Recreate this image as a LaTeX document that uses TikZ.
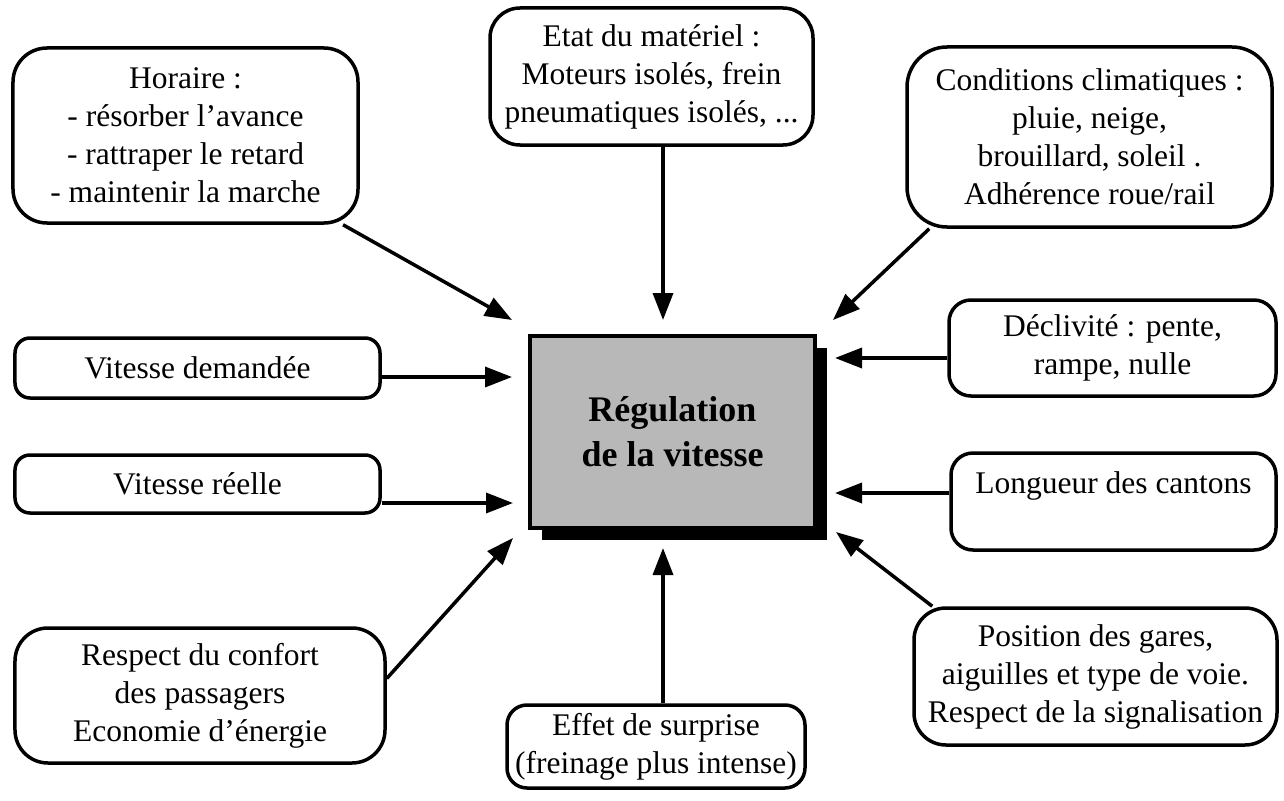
\documentclass[tikz,border=0pt]{standalone}
\usepackage{fontspec}
\setmainfont{Liberation Serif}
\usetikzlibrary{arrows.meta,calc,shadows}
\begin{document}
\begin{tikzpicture}[x=1bp,y=-1bp,
  box/.style={draw, line width=3.5bp, align=center, inner sep=0pt, fill=white,
    font={\fontsize{31.5bp}{38bp}\selectfont}},
  arr/.style={line width=3.5bp, -{Triangle[length=27bp,width=20bp]}},
  central/.style={draw, line width=3.5bp, fill=black!28, align=center, inner sep=0pt,
    font={\fontsize{36bp}{45bp}\selectfont\bfseries},
    drop shadow={shadow xshift=12bp, shadow yshift=-12bp, fill=black, opacity=1}}
  ]
\useasboundingbox (0,0) rectangle (1284,801);

% central node
\node[central, minimum width=285bp, minimum height=192bp] (reg) at (672.5,432) {Régulation\\de la vitesse};

% surrounding boxes
\node[box, minimum width=345bp, minimum height=175bp, rounded corners=34bp] (hor) at (185.5,135.5)
  {Horaire :\\- résorber l’avance\\- rattraper le retard\\- maintenir la marche};
\node[box, minimum width=323bp, minimum height=137bp, rounded corners=30bp] (etat) at (651.5,76.5)
  {Etat du matériel :\\Moteurs isolés, frein\\pneumatiques isolés, ...};
\node[box, minimum width=365bp, minimum height=180bp, rounded corners=40bp] (cond) at (1089.5,137)
  {Conditions climatiques :\\pluie, neige,\\brouillard, soleil .\\Adhérence roue/rail};
\node[box, minimum width=327bp, minimum height=96bp, rounded corners=22bp] (decl) at (1112.5,348)
  {Déclivité : pente,\\rampe, nulle};
\node[box, minimum width=325bp, minimum height=97bp, rounded corners=22bp] (long) at (1113.5,501.5)
  {Longueur des cantons\\\mbox{}};
\node[box, minimum width=363bp, minimum height=137bp, rounded corners=32bp] (pos) at (1095.5,676.5)
  {Position des gares,\\aiguilles et type de voie.\\Respect de la signalisation};
\node[box, minimum width=298bp, minimum height=83bp, rounded corners=20bp] (effet) at (656,746.5)
  {Effet de surprise\\(freinage plus intense)};
\node[box, minimum width=370bp, minimum height=135bp, rounded corners=33bp] (resp) at (200,695.5)
  {Respect du confort\\des passagers\\Economie d’énergie};
\node[box, minimum width=365bp, minimum height=60bp, rounded corners=15bp] (vdem) at (197.5,368)
  {Vitesse demandée};
\node[box, minimum width=365bp, minimum height=58bp, rounded corners=15bp] (vreel) at (197.5,484)
  {Vitesse réelle};

% arrow tips near the central box
\coordinate (t1) at (512,320);
\coordinate (t2) at (663,320);
\coordinate (t3) at (833,320);
\coordinate (t4) at (512,377);
\coordinate (t5) at (513,503);
\coordinate (t6) at (513,538);
\coordinate (t7) at (663,548);
\coordinate (t8) at (836,532);
\coordinate (t9) at (835,493);
\coordinate (t10) at (835,358);

\draw[arr] (hor) -- (t1);
\draw[arr] (etat.south -| t2) -- (t2);
\draw[arr] ($(cond.south west)+(24,0)$) -- (t3);
\draw[arr] (vdem.east |- t4) -- (t4);
\draw[arr] (vreel.east |- t5) -- (t5);
\draw[arr] ($(resp.east)+(0,-17)$) -- (t6);
\draw[arr] (effet.north -| t7) -- (t7);
\draw[arr] ($(pos.north west)+(20,0)$) -- (t8);
\draw[arr] (long.west |- t9) -- (t9);
\draw[arr] (decl.west |- t10) -- (t10);
\end{tikzpicture}
\end{document}
